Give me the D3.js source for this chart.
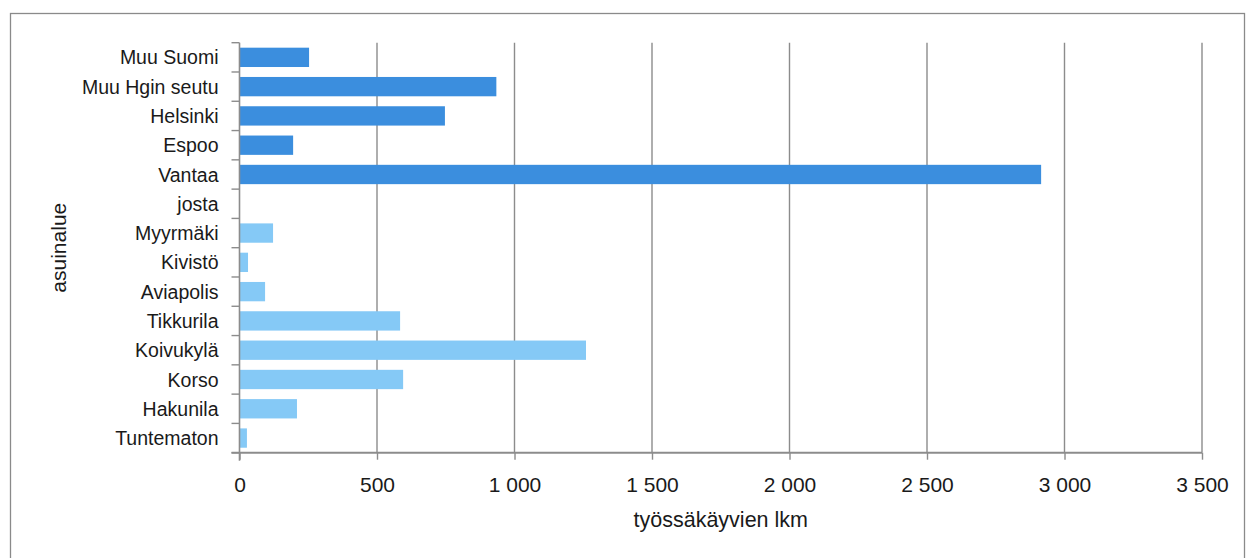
<!DOCTYPE html>
<html><head><meta charset="utf-8">
<script src="https://cdn.jsdelivr.net/npm/d3@7"></script>
<style>
html,body{margin:0;padding:0;background:#fff;}
svg{display:block;}
text{font-family:"Liberation Sans",Arial,sans-serif;fill:#1a1a1a;}
</style></head>
<body>
<svg id="chart" width="1246" height="558"></svg>
<script>
const categories = ["Muu Suomi","Muu Hgin seutu","Helsinki","Espoo","Vantaa","josta","Myyrmäki","Kivistö","Aviapolis","Tikkurila","Koivukylä","Korso","Hakunila","Tuntematon"];
const values = [253, 934, 747, 195, 2915, 0, 122, 31, 93, 584, 1260, 595, 209, 27];
const groups = ["main","main","main","main","main","sub","sub","sub","sub","sub","sub","sub","sub","sub"];
const xTicks = [0, 500, 1000, 1500, 2000, 2500, 3000, 3500];
const xTitle = "työssäkäyvien lkm";
const yTitle = "asuinalue";
const colors = {main:"#3B8EDE", sub:"#85C9F6"};

const svg = d3.select("#chart");
const pL = 239.5, pR = 1202, pT = 42.7, pB = 452.7;

svg.append("rect").attr("x",10.5).attr("y",13.5).attr("width",1234).attr("height",560)
  .attr("fill","none").attr("stroke","#8a8a8a").attr("stroke-width",1.3);

const x = d3.scaleLinear().domain([0,3500]).range([pL,pR]);
const y = d3.scaleBand().domain(categories).range([pT,pB]).paddingInner(0.34).paddingOuter(0.17);
const yb = d3.scaleBand().domain(categories).range([pT,pB]);

const fmt = d3.formatLocale({decimal:",",thousands:"\u00a0",grouping:[3],currency:["","€"]}).format(",d");

// gridlines
svg.append("g").selectAll("line").data(xTicks.slice(1)).join("line")
  .attr("x1",d=>x(d)).attr("x2",d=>x(d)).attr("y1",pT).attr("y2",pB)
  .attr("stroke","#8c8c8c").attr("stroke-width",1.4);

// bars
svg.append("g").selectAll("rect").data(categories).join("rect")
  .attr("x",x(0)).attr("y",d=>y(d)).attr("height",y.bandwidth())
  .attr("width",(d,i)=>x(values[i])-x(0))
  .attr("fill",(d,i)=>colors[groups[i]]);

// x axis
const xAxis = svg.append("g").attr("transform",`translate(0,${pB})`)
  .call(d3.axisBottom(x).tickValues(xTicks).tickFormat(fmt).tickSize(7).tickPadding(17));
xAxis.select(".domain").attr("stroke","#8c8c8c").attr("stroke-width",2).attr("d",`M${pL-8},0H${pR}`);
xAxis.selectAll(".tick line").attr("stroke","#8c8c8c").attr("stroke-width",1.4);
xAxis.selectAll("text").attr("font-size","21px").style("font-family","Liberation Sans, Arial, sans-serif").attr("fill","#1a1a1a");

// y axis
const yAxis = svg.append("g").attr("transform",`translate(${pL},0)`);
yAxis.append("line").attr("x1",0).attr("x2",0).attr("y1",pT).attr("y2",pB+8)
  .attr("stroke","#8c8c8c").attr("stroke-width",1.6);
const bounds = categories.map(c=>yb(c)).concat([pB]);
yAxis.selectAll("line.tk").data(bounds).join("line").attr("class","tk")
  .attr("x1",-8).attr("x2",0).attr("y1",d=>d).attr("y2",d=>d)
  .attr("stroke","#8c8c8c").attr("stroke-width",1.4);
yAxis.selectAll("text").data(categories).join("text")
  .attr("x",-21).attr("y",d=>yb(d)+yb.bandwidth()/2).attr("dy","0.36em")
  .attr("text-anchor","end").attr("font-size","19.5px").text(d=>d);

svg.append("text").attr("x",(pL+pR)/2).attr("y",527).attr("text-anchor","middle")
  .attr("font-size","21.5px").text(xTitle);
svg.append("text").attr("transform",`translate(66,${(pT+pB)/2}) rotate(-90)`)
  .attr("text-anchor","middle").attr("font-size","21px").text(yTitle);
</script>
</body></html>
